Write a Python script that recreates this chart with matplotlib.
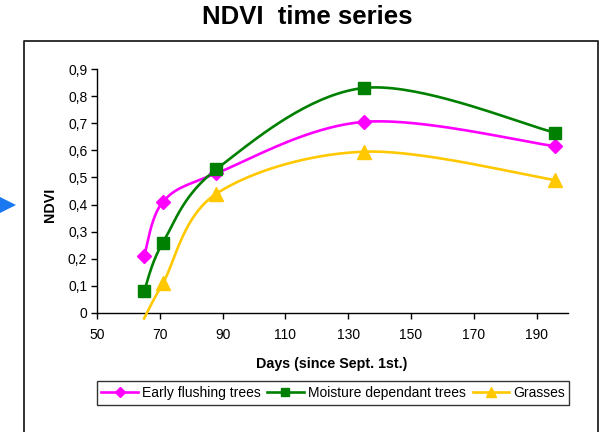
import numpy as np
import matplotlib
matplotlib.use("Agg")
import matplotlib.pyplot as plt
from matplotlib.lines import Line2D
from matplotlib.patches import Polygon
from matplotlib.ticker import FuncFormatter

plt.rcParams["font.family"] = ["Liberation Sans", "DejaVu Sans"]

# NDVI readings per vegetation class, days counted from Sept. 1st
days = [65, 71, 88, 135, 196]
early_flushing = [0.21, 0.41, 0.515, 0.705, 0.615]
moisture_dependant = [0.08, 0.26, 0.53, 0.83, 0.665]
grasses = [-0.02, 0.11, 0.44, 0.595, 0.49]

series_names = ["Early flushing trees", "Moisture dependant trees", "Grasses"]
x_ticks = [50, 70, 90, 110, 130, 150, 170, 190]
y_ticks = [0, 0.1, 0.2, 0.3, 0.4, 0.5, 0.6, 0.7, 0.8, 0.9]

W, H = 607, 432


def smooth(xs, ys, sx, sy, n=40):
    """Catmull-Rom style bezier through the points, done in screen-like units."""
    p = np.column_stack([np.asarray(xs) * sx, np.asarray(ys) * sy])
    out = [p[0]]
    for i in range(len(p) - 1):
        p0 = p[i - 1] if i > 0 else p[i]
        p1, p2 = p[i], p[i + 1]
        p3 = p[i + 2] if i + 2 < len(p) else p[i + 1]
        c1 = p1 + (p2 - p0) / 6
        c2 = p2 - (p3 - p1) / 6
        t = np.linspace(0, 1, n)[1:, None]
        seg = ((1 - t) ** 3) * p1 + 3 * ((1 - t) ** 2) * t * c1 + 3 * (1 - t) * t ** 2 * c2 + t ** 3 * p2
        out.extend(seg)
    out = np.array(out)
    return out[:, 0] / sx, out[:, 1] / sy


fig = plt.figure(figsize=(W / 100, H / 100), dpi=100)
ax = fig.add_axes([97 / W, 1 - 313 / H, (568 - 97) / W, (313 - 69) / H])

# pixels per unit, so the smoothing bends like it would on screen
sx = (568 - 97) / 150
sy = (313 - 69) / 0.9

styles = [
    (early_flushing, "#ff00ff", "D", 7.5, [0, 1, 2, 3, 4]),
    (moisture_dependant, "#008000", "s", 8.5, [0, 1, 2, 3, 4]),
    (grasses, "#ffc800", "^", 9.5, [1, 2, 3, 4]),
]
handles = []
for (vals, color, marker, ms, shown), name in zip(styles, series_names):
    cx, cy = smooth(days, vals, sx, sy)
    ax.plot(cx, cy, color=color, lw=1.9, clip_on=False, zorder=3)
    mx = [days[i] for i in shown]
    my = [vals[i] for i in shown]
    ax.plot(mx, my, ls="none", marker=marker, ms=ms, color=color,
            markeredgecolor=color, clip_on=False, zorder=4)
    handles.append(Line2D([], [], color=color, lw=1.9, marker=marker,
                          ms=ms * 0.7, markeredgecolor=color, label=name))

ax.set_xlim(50, 200)
ax.set_ylim(0, 0.9)
ax.set_xticks(x_ticks)
ax.set_yticks(y_ticks)
ax.yaxis.set_major_formatter(FuncFormatter(
    lambda v, pos: "0" if v == 0 else f"{v:.1f}".replace(".", ",")))
ax.tick_params(direction="out", length=4, width=1, labelsize=10, pad=3)
ax.tick_params(axis="x", pad=7)
for side in ["top", "right"]:
    ax.spines[side].set_visible(False)
for side in ["left", "bottom"]:
    ax.spines[side].set_linewidth(1)

fig.text(307.5 / W, 1 - 17 / H, "NDVI  time series", ha="center", va="center",
         fontsize=18.5, fontweight="bold")
fig.text(332 / W, 1 - 364 / H, "Days (since Sept. 1st.)", ha="center",
         va="center", fontsize=10.3, fontweight="bold")
fig.text(50 / W, 1 - 205 / H, "NDVI", ha="center", va="center",
         rotation=90, fontsize=10.3, fontweight="bold")

leg = fig.legend(handles=handles, loc="center", bbox_to_anchor=(333 / W, 1 - 393 / H),
                 ncol=3, fontsize=10, frameon=True, fancybox=False,
                 handlelength=2.6, handletextpad=0.3, columnspacing=0.5,
                 borderpad=0.35, borderaxespad=0)
leg.get_frame().set_edgecolor("black")
leg.get_frame().set_linewidth(1)

# chart area border, open at the bottom edge of the image
fx0, fx1, fy = 23.5 / W, 598 / W, 1 - 41 / H
fig.add_artist(Line2D([fx0, fx0, fx1, fx1], [0, fy, fy, 0],
                      transform=fig.transFigure, color="#222222", lw=1.3))

# blue pointer on the left edge
fig.add_artist(Polygon([[0 / W, 1 - 197 / H], [16 / W, 1 - 205 / H], [0 / W, 1 - 213 / H]],
                       closed=True, transform=fig.transFigure,
                       facecolor="#1a78f0", edgecolor="none"))

fig.savefig("out.png", dpi=100)
